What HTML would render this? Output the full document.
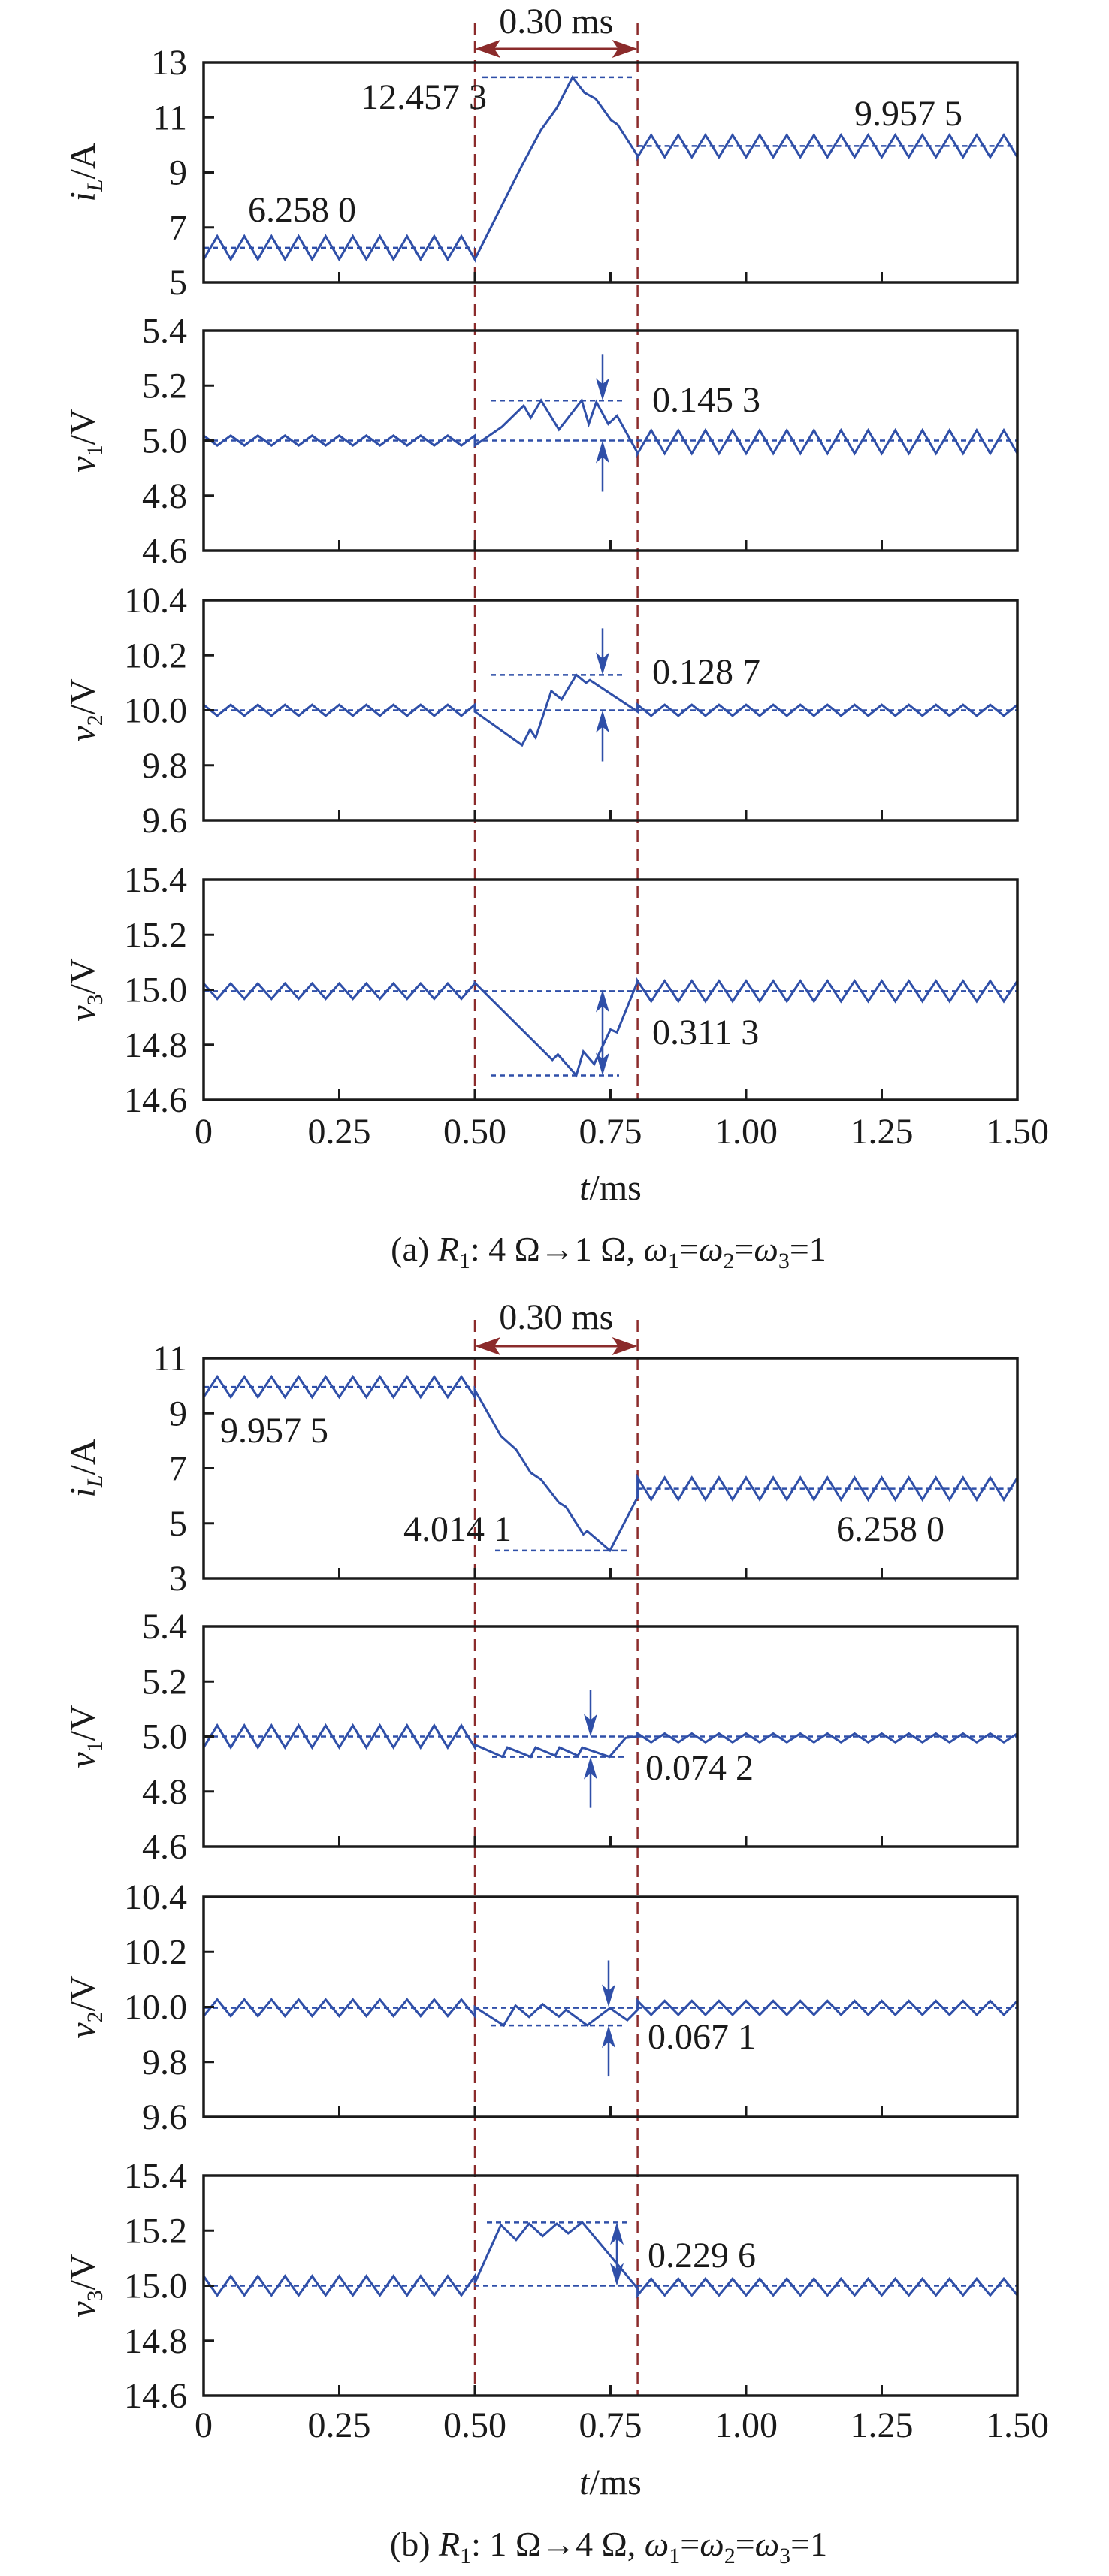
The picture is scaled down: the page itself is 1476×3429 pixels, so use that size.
<!DOCTYPE html>
<html><head><meta charset="utf-8"><style>
html,body{margin:0;padding:0;background:#fff;}
svg{display:block;}
svg text{font-family:"Liberation Serif","DejaVu Serif",serif;}
</style></head><body>
<svg id="chart" width="1476" height="3429" viewBox="0 0 1476 3429" xmlns="http://www.w3.org/2000/svg"></svg>
<script>
// ---------- data ----------
const xTicks = [0, 0.25, 0.5, 0.75, 1.0, 1.25, 1.5];
const xTickLabels = ["0", "0.25", "0.50", "0.75", "1.00", "1.25", "1.50"];
const eventTimes = [0.5, 0.8];

const iLTicksA = [5, 7, 9, 11, 13];
const iLTicksB = [3, 5, 7, 9, 11];
const v1Ticks = [4.6, 4.8, 5.0, 5.2, 5.4];
const v2Ticks = [9.6, 9.8, 10.0, 10.2, 10.4];
const v3Ticks = [14.6, 14.8, 15.0, 15.2, 15.4];

// steady-state ripple: [mean, amplitude, startSign]
const a1Before = [6.258, 0.42, -1];
const a1After = [9.9575, 0.40, -1];
const a1TransT = [0.5, 0.587, 0.622, 0.651, 0.680, 0.702, 0.723, 0.751, 0.763, 0.8];
const a1TransV = [5.84, 9.26, 10.54, 11.34, 12.457, 11.9, 11.67, 10.9, 10.74, 9.6];

const a2Before = [5.0, 0.018, 1];
const a2After = [4.995, 0.042, -1];
const a2TransT = [0.5, 0.55, 0.59, 0.603, 0.622, 0.655, 0.697, 0.71, 0.724, 0.746, 0.762, 0.8];
const a2TransV = [4.982, 5.05, 5.127, 5.083, 5.146, 5.04, 5.146, 5.06, 5.14, 5.06, 5.09, 4.955];

const a3Before = [10.0, 0.02, 1];
const a3After = [10.0, 0.02, 1];
const a3TransT = [0.5, 0.587, 0.602, 0.612, 0.641, 0.66, 0.687, 0.705, 0.712, 0.8];
const a3TransV = [9.995, 9.873, 9.93, 9.9, 10.07, 10.04, 10.129, 10.1, 10.11, 9.995];

const a4Before = [14.995, 0.028, 1];
const a4After = [14.995, 0.037, 1];
const a4TransT = [0.5, 0.643, 0.653, 0.687, 0.70, 0.72, 0.75, 0.762, 0.8];
const a4TransV = [15.025, 14.745, 14.765, 14.689, 14.775, 14.73, 14.855, 14.845, 15.03];

const b1Before = [9.9575, 0.37, -1];
const b1After = [6.258, 0.40, 1];
const b1TransT = [0.5, 0.548, 0.576, 0.603, 0.622, 0.655, 0.668, 0.70, 0.707, 0.749, 0.796, 0.8];
const b1TransV = [9.85, 8.17, 7.68, 6.84, 6.59, 5.75, 5.59, 4.6, 4.72, 4.014, 5.8, 5.95];

const b2Before = [5.0, 0.04, -1];
const b2After = [4.995, 0.016, 1];
const b2TransT = [0.5, 0.551, 0.56, 0.603, 0.612, 0.648, 0.656, 0.69, 0.698, 0.748, 0.778, 0.8];
const b2TransV = [4.97, 4.926, 4.96, 4.926, 4.96, 4.93, 4.96, 4.93, 4.96, 4.926, 4.995, 5.0];

const b3Before = [9.997, 0.03, -1];
const b3After = [9.997, 0.025, 1];
const b3TransT = [0.5, 0.553, 0.575, 0.6, 0.625, 0.655, 0.668, 0.707, 0.749, 0.781, 0.8];
const b3TransV = [10.0, 9.933, 10.005, 9.964, 10.01, 9.965, 9.99, 9.933, 9.996, 9.952, 9.99];

const b4Before = [15.0, 0.035, 1];
const b4After = [14.995, 0.03, -1];
const b4TransT = [0.5, 0.548, 0.576, 0.6, 0.625, 0.651, 0.672, 0.698, 0.8];
const b4TransV = [15.01, 15.22, 15.166, 15.225, 15.18, 15.225, 15.19, 15.23, 14.99];

// ---------- drawing ----------
const NS = "http://www.w3.org/2000/svg";
const svg = document.getElementById("chart");
const X0 = 271, X1 = 1354, TMAX = 1.5;
const BLUE = "#2f4fa8", RED = "#8b2b2b";
const FONT = '"Liberation Serif", "DejaVu Serif", serif';
function xs(t){ return X0 + t / TMAX * (X1 - X0); }
function mk(tag, attrs, parent){
  const e = document.createElementNS(NS, tag);
  for (const k in attrs) e.setAttribute(k, attrs[k]);
  if (tag === "text") e.setAttribute("font-family", FONT);
  (parent || svg).appendChild(e);
  return e;
}
function ripplePts(seg, t0, t1, ys){
  const pts = [];
  const n = Math.round((t1 - t0) / 0.025);
  for (let k = 0; k <= n; k++){
    const s = (k % 2 === 0 ? 1 : -1) * seg[2];
    pts.push([xs(t0 + k * 0.025), ys(seg[0] + s * seg[1])]);
  }
  return pts;
}
function arrowHead(g, x, yTip, dir, color, name){
  const p = mk("path", {d:`M${x},${yTip} L${x-9},${yTip-dir*30} L${x},${yTip-dir*22} L${x+9},${yTip-dir*30} Z`, fill:color}, g);
  
  
}

function drawPanel(cfg){
  const g = mk("g", {});
  
  
  const top = cfg.top, bot = cfg.top + 293;
  const lo = cfg.ticks[0], hi = cfg.ticks[cfg.ticks.length - 1];
  const ys = v => bot - (v - lo) / (hi - lo) * (bot - top);

  const dash = {stroke:BLUE, "stroke-width":2.5, "stroke-dasharray":"7 5", fill:"none"};
  if (cfg.meanFull){
    const l = mk("line", Object.assign({x1:X0, x2:X1, y1:ys(cfg.before[0]), y2:ys(cfg.before[0])}, dash), g);
    
    
  } else {
    const l1 = mk("line", Object.assign({x1:X0, x2:xs(0.5), y1:ys(cfg.before[0]), y2:ys(cfg.before[0])}, dash), g);
    
    
    const l2 = mk("line", Object.assign({x1:xs(0.8), x2:X1, y1:ys(cfg.after[0]), y2:ys(cfg.after[0])}, dash), g);
    
    
  }
  const el = mk("line", Object.assign({x1:cfg.ext[0], x2:cfg.ext[1], y1:ys(cfg.ext[2]), y2:ys(cfg.ext[2])}, dash), g);
  
  

  let pts = ripplePts(cfg.before, 0, 0.5, ys);
  for (let i = 0; i < cfg.tt.length; i++) pts.push([xs(cfg.tt[i]), ys(cfg.tv[i])]);
  pts = pts.concat(ripplePts(cfg.after, 0.8, 1.5, ys));
  const line = mk("polyline", {points: pts.map(p => p[0].toFixed(1)+","+p[1].toFixed(1)).join(" "), fill:"none", stroke:BLUE, "stroke-width":3, "stroke-linejoin":"miter"}, g);
  
  

  const fr = mk("rect", {x:X0, y:top, width:X1-X0, height:bot-top, fill:"none", stroke:"#1a1a1a", "stroke-width":3.5}, g);
  
  
  for (let i = 1; i < xTicks.length - 1; i++){
    const t = mk("line", {x1:xs(xTicks[i]), x2:xs(xTicks[i]), y1:bot, y2:bot-14, stroke:"#1a1a1a", "stroke-width":3}, g);
    
    
  }
  cfg.ticks.forEach((v, i) => {
    if (i > 0 && i < cfg.ticks.length - 1){
      const t = mk("line", {x1:X0, x2:X0+14, y1:ys(v), y2:ys(v), stroke:"#1a1a1a", "stroke-width":3}, g);
      
      
    }
    const tx = mk("text", {x:249, y:ys(v)+16, "text-anchor":"end", "font-size":48, fill:"#1a1a1a"}, g);
    tx.textContent = cfg.tickLabels[i];
    
    
  });
  const yt = mk("text", {x:0, y:0, transform:`translate(126,${(top+bot)/2}) rotate(-90)`, "text-anchor":"middle", "font-size":48, fill:"#1a1a1a"}, g);
  yt.innerHTML = cfg.ytitle;
  
  

  cfg.labels.forEach(L => {
    const t = mk("text", {x:L[0], y:L[1], "font-size":48, fill:"#1a1a1a"}, g);
    t.textContent = L[2];
    
    
  });
  if (cfg.arrows){
    const a = cfg.arrows;
    const x = a.x;
    const y1 = ys(a.v1), y2 = ys(a.v2);
    if (a.type === "pinch"){
      const s1 = mk("line", {x1:x, x2:x, y1:y1-62, y2:y1-20, stroke:BLUE, "stroke-width":2.5}, g);
      
      
      arrowHead(g, x, y1, 1, BLUE, 'arrow-head-down');
      const s2 = mk("line", {x1:x, x2:x, y1:y2+20, y2:y2+68, stroke:BLUE, "stroke-width":2.5}, g);
      
      
      arrowHead(g, x, y2, -1, BLUE, 'arrow-head-up');
    } else {
      const s = mk("line", {x1:x, x2:x, y1:y1+20, y2:y2-20, stroke:BLUE, "stroke-width":2.5}, g);
      
      
      arrowHead(g, x, y1, -1, BLUE, 'arrow-head-up');
      arrowHead(g, x, y2, 1, BLUE, 'arrow-head-down');
    }
  }
}

function drawGroup(G){
  eventTimes.forEach(t => {
    const l = mk("line", {x1:xs(t), x2:xs(t), y1:G.vtop, y2:G.vbot, stroke:RED, "stroke-width":2.5, "stroke-dasharray":"16 9"});
    
    
  });
  const ya = G.arrowY, xa = xs(eventTimes[0]), xb = xs(eventTimes[1]);
  const s = mk("line", {x1:xa+20, x2:xb-20, y1:ya, y2:ya, stroke:RED, "stroke-width":3});
  
  
  const h1 = mk("path", {d:`M${xa},${ya} L${xa+34},${ya-12} L${xa+26},${ya} L${xa+34},${ya+12} Z`, fill:RED});
  
  
  const h2 = mk("path", {d:`M${xb},${ya} L${xb-34},${ya-12} L${xb-26},${ya} L${xb-34},${ya+12} Z`, fill:RED});
  
  
  const dt = mk("text", {x:(xa+xb)/2, y:G.durY, "text-anchor":"middle", "font-size":48, fill:"#1a1a1a"});
  dt.textContent = "0.30 ms";
  
  

  G.panels.forEach(drawPanel);

  xTicks.forEach((t, i) => {
    const tx = mk("text", {x:xs(t), y:G.tickY, "text-anchor":"middle", "font-size":48, fill:"#1a1a1a"});
    tx.textContent = xTickLabels[i];
    
    
  });
  const xt = mk("text", {x:xs(0.75), y:G.xtitleY, "text-anchor":"middle", "font-size":48, fill:"#1a1a1a"});
  xt.innerHTML = '<tspan font-style="italic">t</tspan>/ms';
  
  
  const cp = mk("text", {x:810, y:G.capY, "text-anchor":"middle", "font-size":46, fill:"#1a1a1a"});
  cp.innerHTML = G.caption;
  
  
}

const sub = n => `<tspan font-size="30" baseline-shift="-10">${n}</tspan>`;
const yIL = `<tspan font-style="italic">i</tspan><tspan font-style="italic" font-size="30" baseline-shift="-10">L</tspan>/A`;
const yV = n => `<tspan font-style="italic">v</tspan><tspan font-size="30" baseline-shift="-10">${n}</tspan>/V`;
const w = n => `<tspan font-style="italic">ω</tspan>${sub(n)}`;

drawGroup({
  vtop:30, vbot:1464, arrowY:65, durY:44, tickY:1522, xtitleY:1597, capY:1678,
  caption:`(a) <tspan font-style="italic">R</tspan>${sub(1)}: 4 Ω→1 Ω, ${w(1)}=${w(2)}=${w(3)}=1`,
  panels:[
    {name:"panel-a-inductor-current", series:"iL-series", top:83, ticks:iLTicksA, tickLabels:["5","7","9","11","13"], ytitle:yIL,
     before:a1Before, after:a1After, tt:a1TransT, tv:a1TransV, meanFull:false, ext:[642,841,12.4573],
     labels:[[330,295,"6.258 0"],[480,145,"12.457 3"],[1137,167,"9.957 5"]]},
    {name:"panel-a-v1", series:"v1-series", top:440, ticks:v1Ticks, tickLabels:["4.6","4.8","5.0","5.2","5.4"], ytitle:yV(1),
     before:a2Before, after:a2After, tt:a2TransT, tv:a2TransV, meanFull:true, ext:[653,829,5.1453],
     labels:[[868,548,"0.145 3"]], arrows:{type:"pinch", x:802, v1:5.1453, v2:5.0}},
    {name:"panel-a-v2", series:"v2-series", top:799, ticks:v2Ticks, tickLabels:["9.6","9.8","10.0","10.2","10.4"], ytitle:yV(2),
     before:a3Before, after:a3After, tt:a3TransT, tv:a3TransV, meanFull:true, ext:[653,829,10.1287],
     labels:[[868,910,"0.128 7"]], arrows:{type:"pinch", x:802, v1:10.1287, v2:10.0}},
    {name:"panel-a-v3", series:"v3-series", top:1171, ticks:v3Ticks, tickLabels:["14.6","14.8","15.0","15.2","15.4"], ytitle:yV(3),
     before:a4Before, after:a4After, tt:a4TransT, tv:a4TransV, meanFull:true, ext:[653,824,14.6887],
     labels:[[868,1390,"0.311 3"]], arrows:{type:"double", x:802, v1:15.0, v2:14.6887}}
  ]
});

drawGroup({
  vtop:1757, vbot:3189, arrowY:1792, durY:1769, tickY:3244, xtitleY:3320, capY:3402,
  caption:`(b) <tspan font-style="italic">R</tspan>${sub(1)}: 1 Ω→4 Ω, ${w(1)}=${w(2)}=${w(3)}=1`,
  panels:[
    {name:"panel-b-inductor-current", series:"iL-series", top:1808, ticks:iLTicksB, tickLabels:["3","5","7","9","11"], ytitle:yIL,
     before:b1Before, after:b1After, tt:b1TransT, tv:b1TransV, meanFull:false, ext:[659,836,4.0141],
     labels:[[293,1920,"9.957 5"],[537,2051,"4.014 1"],[1113,2051,"6.258 0"]]},
    {name:"panel-b-v1", series:"v1-series", top:2165, ticks:v1Ticks, tickLabels:["4.6","4.8","5.0","5.2","5.4"], ytitle:yV(1),
     before:b2Before, after:b2After, tt:b2TransT, tv:b2TransV, meanFull:true, ext:[655,832,4.9258],
     labels:[[859,2369,"0.074 2"]], arrows:{type:"pinch", x:786, v1:5.0, v2:4.9258}},
    {name:"panel-b-v2", series:"v2-series", top:2525, ticks:v2Ticks, tickLabels:["9.6","9.8","10.0","10.2","10.4"], ytitle:yV(2),
     before:b3Before, after:b3After, tt:b3TransT, tv:b3TransV, meanFull:true, ext:[653,830,9.9329],
     labels:[[862,2727,"0.067 1"]], arrows:{type:"pinch", x:810, v1:10.0, v2:9.9329}},
    {name:"panel-b-v3", series:"v3-series", top:2896, ticks:v3Ticks, tickLabels:["14.6","14.8","15.0","15.2","15.4"], ytitle:yV(3),
     before:b4Before, after:b4After, tt:b4TransT, tv:b4TransV, meanFull:true, ext:[648,836,15.2296],
     labels:[[862,3018,"0.229 6"]], arrows:{type:"double", x:821, v1:15.2296, v2:15.0}}
  ]
});
</script>
</body></html>
